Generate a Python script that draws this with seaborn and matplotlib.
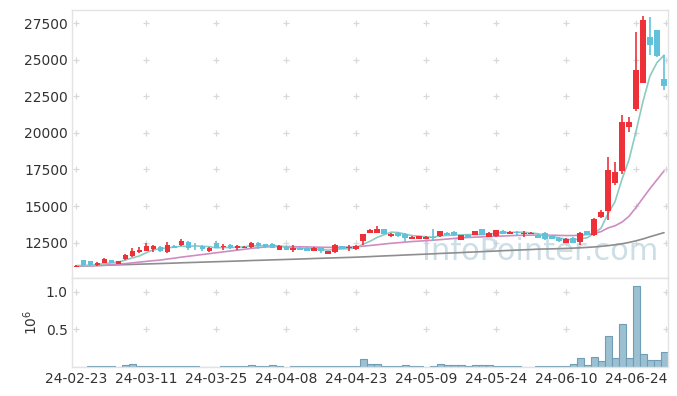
import numpy as np
import pandas as pd
import matplotlib
matplotlib.use("Agg")
import matplotlib.pyplot as plt
import seaborn as sns

# ---------------- data ----------------
holidays = ["2024-03-01", "2024-04-10", "2024-05-01", "2024-05-06", "2024-05-15", "2024-06-06"]
trade_days = [d for d in pd.bdate_range("2024-02-23", "2024-06-28") if d.strftime("%Y-%m-%d") not in holidays]
date_labels = [d.strftime("%y-%m-%d") for d in trade_days]

opens = [10850, 11290, 11220, 10950, 11130, 11290, 11060, 11360, 11580, 11860,
         11930, 12090, 12200, 11860, 12270, 12320, 12540, 12230, 12270, 11900,
         12500, 12180, 12360, 12130, 12130, 12200, 12500, 12380, 12430, 12020,
         12200, 12020, 12160, 12130, 11950, 12130, 11750, 11860, 12250, 12130,
         12060, 12610, 13185, 13185, 13410, 12950, 13185, 13120, 12770, 12770,
         12770, 12890, 12950, 13185, 13230, 12700, 13050, 13050, 13410, 12890,
         12950, 13300, 13120, 13250, 13100, 13100, 13050, 13150, 12980, 12815,
         12500, 12815, 12550, 13275, 13050, 14250, 14680, 16580, 17400, 20380,
         21610, 23450, 26560, 27040, 23690]
highs = [10990, 11330, 11260, 11180, 11470, 11330, 11260, 11750, 12100, 12200,
         12450, 12300, 12280, 12550, 12330, 12730, 12600, 12450, 12320, 12170,
         12620, 12400, 12400, 12300, 12270, 12560, 12550, 12420, 12470, 12300,
         12240, 12360, 12200, 12170, 12170, 12170, 11940, 12400, 12290, 12360,
         12300, 13110, 13400, 13640, 13450, 13160, 13230, 13160, 12930, 12970,
         12930, 13410, 13320, 13230, 13270, 13040, 13090, 13320, 13450, 13230,
         13380, 13340, 13270, 13290, 13300, 13190, 13090, 13190, 13020, 12860,
         12810, 12860, 13230, 13320, 14200, 14700, 18360, 17980, 21250, 21100,
         26900, 28000, 27950, 27060, 25300]
lows = [10820, 10900, 10920, 10900, 11100, 11080, 11020, 11320, 11540, 11820,
        11900, 11880, 11880, 11820, 12110, 12290, 12020, 12000, 11950, 11860,
        12120, 12000, 12090, 11980, 12100, 12160, 12050, 12160, 12120, 11980,
        11980, 11860, 11980, 11900, 11910, 11800, 11700, 11820, 12050, 11950,
        12020, 12300, 13150, 13150, 13080, 12910, 12910, 12540, 12730, 12730,
        12730, 12590, 12910, 13010, 12960, 12660, 12850, 13010, 13010, 12850,
        12910, 13080, 13080, 13010, 12900, 13060, 12780, 12690, 12720, 12570,
        12460, 12460, 12315, 13010, 12950, 14200, 14030, 16470, 17200, 20040,
        21470, 23400, 25300, 25220, 22930]
closes = [10920, 10950, 10950, 11130, 11360, 11130, 11220, 11630, 11900, 11990,
          12250, 12250, 11930, 12320, 12160, 12610, 12130, 12180, 12090, 12130,
          12160, 12270, 12130, 12250, 12230, 12500, 12270, 12200, 12160, 12250,
          12020, 12160, 12020, 11950, 12130, 11900, 11900, 12320, 12090, 12180,
          12250, 13070, 13340, 13410, 13120, 13120, 12950, 12815, 12890, 12930,
          12890, 12815, 13275, 13050, 13000, 13000, 12890, 13275, 13050, 13185,
          13340, 13120, 13230, 13185, 13140, 13150, 12815, 12730, 12760, 12610,
          12770, 12500, 13185, 13050, 14100, 14590, 17450, 17320, 20740, 20740,
          24300, 27730, 26030, 25280, 23230]
ma20 = [10900, 10910, 10920, 10935, 10950, 10980, 11020, 11060, 11110, 11160,
        11210, 11260, 11300, 11370, 11430, 11500, 11560, 11620, 11680, 11740,
        11800, 11860, 11920, 11980, 12040, 12100, 12150, 12200, 12220, 12230,
        12230, 12220, 12210, 12200, 12190, 12180, 12170, 12170, 12180, 12190,
        12210, 12250, 12300, 12350, 12400, 12450, 12490, 12530, 12570, 12600,
        12630, 12660, 12700, 12740, 12780, 12820, 12850, 12870, 12890, 12910,
        12930, 12950, 12970, 12990, 13000, 13010, 13010, 13010, 13000, 12990,
        12980, 12980, 13000, 13050, 13110, 13250, 13500, 13650, 13900, 14300,
        14900, 15550, 16200, 16800, 17400]
ma_long = [10880, 10895, 10910, 10925, 10940, 10960, 10975, 10990, 11005, 11020,
           11035, 11050, 11065, 11080, 11095, 11115, 11130, 11145, 11160, 11175,
           11190, 11205, 11220, 11235, 11250, 11270, 11285, 11300, 11315, 11330,
           11345, 11360, 11375, 11390, 11410, 11425, 11440, 11455, 11470, 11485,
           11500, 11520, 11540, 11565, 11585, 11605, 11625, 11650, 11670, 11690,
           11710, 11730, 11755, 11775, 11795, 11815, 11840, 11860, 11880, 11900,
           11920, 11945, 11965, 11985, 12005, 12025, 12050, 12060, 12070, 12085,
           12100, 12120, 12140, 12170, 12200, 12240, 12290, 12350, 12420, 12510,
           12620, 12750, 12900, 13040, 13180]
volume = [2000, 1000, 8000, 7000, 8000, 6000, 2000, 18000, 30000, 8000,
          6000, 5000, 7000, 6000, 5000, 8000, 7000, 6000, 1000, 1000,
          1000, 6000, 5000, 7000, 8000, 20000, 7000, 5000, 20000, 6000,
          1000, 6000, 5000, 6000, 5000, 7000, 6000, 5000, 6000, 8000,
          7000, 100000, 30000, 32000, 8000, 6000, 5000, 17000, 6000, 5000,
          1000, 5000, 30000, 17000, 18000, 17000, 6000, 16000, 17000, 16000,
          6000, 7000, 6000, 5000, 1000, 1000, 3000, 12000, 7000, 8000,
          6000, 32000, 112000, 17000, 125000, 76000, 405000, 112000, 569000, 112000,
          1076000, 165000, 89000, 89000, 196000]
price_ticks = [12500, 15000, 17500, 20000, 22500, 25000, 27500]
vol_ticks = [500000, 1000000]
vol_tick_labels = ["0.5", "1.0"]

# ---------------- figure ----------------
sns.set_theme(style="white")
plt.rcParams["font.family"] = ["DejaVu Sans"]

df = pd.DataFrame({"idx": np.arange(len(closes)), "open": opens, "high": highs,
                   "low": lows, "close": closes, "ma20": ma20, "ma_long": ma_long,
                   "volume": volume})
df["ma5"] = df["close"].rolling(5, min_periods=1).mean()

fig = plt.figure(figsize=(6.77, 3.96), dpi=100)
ax = fig.add_axes([0.1064, 0.2972, 0.8799, 0.6775])
axv = fig.add_axes([0.1064, 0.0740, 0.8799, 0.2232], sharex=ax)

RED = "#ee3138"
BLUE = "#62c1da"
spine_c = "#e3e3e3"
txt_c = "#333333"

# moving averages
sns.lineplot(data=df, x="idx", y="ma_long", ax=ax, color="#8e8e8e", lw=1.2, zorder=2)
sns.lineplot(data=df, x="idx", y="ma20", ax=ax, color="#cf8cc3", lw=1.2, zorder=2)
sns.lineplot(data=df, x="idx", y="ma5", ax=ax, color="#8ccbc2", lw=1.2, zorder=2)

# candles
up = df["close"] >= df["open"]
colors = np.where(up, RED, BLUE)
ax.vlines(df["idx"], df["low"], df["high"], colors=colors, lw=1.2, zorder=3)
bottoms = np.minimum(df["open"], df["close"])
heights = np.maximum(np.abs(df["close"] - df["open"]), 30)
ax.bar(df["idx"], heights, bottom=bottoms, width=0.72, color=colors, zorder=4, linewidth=0)

# watermark
ax.text(0.985, 0.045, "InfoPointer.com", transform=ax.transAxes, ha="right", va="bottom",
        fontsize=22, color="#bcd3de", alpha=0.75, zorder=1)

ax.set_ylim(10055, 28410)
ax.set_xlim(-0.57, 84.53)
ax.set_yticks(price_ticks)
ax.set_yticklabels([str(t) for t in price_ticks])
ax.set_xlabel("")
ax.set_ylabel("")
ax.tick_params(axis="x", labelbottom=False, length=0)
ax.tick_params(axis="y", length=0, pad=3, labelsize=10, labelcolor=txt_c)

# volume
sns.barplot(data=df, x="idx", y="volume", ax=axv, native_scale=True, width=1.0,
            color="#9bc0d2", edgecolor="#6f9db5", linewidth=0.8, saturation=1)
axv.set_ylim(0, 1178000)
axv.set_yticks(vol_ticks)
axv.set_yticklabels(vol_tick_labels)
axv.set_ylabel(r"$10^6$", fontsize=10, color=txt_c, labelpad=4)
axv.set_xlabel("")
tick_pos = list(range(0, len(closes), 10))
axv.set_xticks(tick_pos)
axv.set_xticklabels([date_labels[i] for i in tick_pos])
axv.set_xlim(-0.57, 84.53)
axv.tick_params(axis="both", length=0, labelsize=10, labelcolor=txt_c)
axv.tick_params(axis="y", pad=3)
axv.tick_params(axis="x", pad=4)

# cross-hair grid marks
gx = tick_pos + [84.3]
for a, ys in ((ax, price_ticks), (axv, vol_ticks)):
    X, Y = np.meshgrid(gx, ys)
    a.scatter(X.ravel(), Y.ravel(), marker="+", s=22, color="#d9d9d9", linewidths=0.9, zorder=0)
    for s in a.spines.values():
        s.set_color(spine_c)
        s.set_linewidth(1.0)

fig.savefig("out.png", dpi=100)
